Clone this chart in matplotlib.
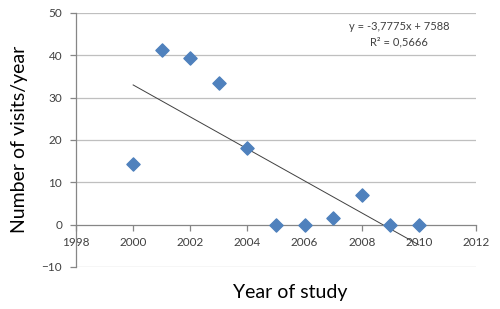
import matplotlib
matplotlib.use("Agg")
import matplotlib.pyplot as plt
import numpy as np

years = [2000, 2001, 2002, 2003, 2004, 2005, 2006, 2007, 2008, 2009, 2010]
visits = [14.3, 41.3, 39.4, 33.5, 18.0, 0.0, 0.0, 1.5, 7.0, 0.0, 0.0]
slope = -3.7775
intercept = 7588
eq_text = "y = -3,7775x + 7588\nR² = 0,5666"
xticks = [1998, 2000, 2002, 2004, 2006, 2008, 2010, 2012]
yticks = [-10, 0, 10, 20, 30, 40, 50]

plt.rcParams['font.family'] = ['Lato', 'DejaVu Sans']

fig = plt.figure(figsize=(5, 3.09), dpi=100)
ax = fig.add_axes([0.152, 0.136, 0.8, 0.822])

ax.set_xlim(1998, 2012)
ax.set_ylim(-10, 50)
ax.set_xticks(xticks)
ax.set_yticks(yticks)

for y in yticks:
    if y == 0:
        continue
    ax.axhline(y, color='#BFBFBF', lw=0.9, zorder=0)

ax.spines['top'].set_visible(False)
ax.spines['right'].set_visible(False)
ax.spines['bottom'].set_position(('data', 0))
ax.spines['bottom'].set_color('#868686')
ax.spines['left'].set_color('#868686')
ax.spines['bottom'].set_linewidth(0.9)
ax.spines['left'].set_linewidth(0.9)

ax.tick_params(axis='both', colors='#868686', labelcolor='#404040', labelsize=8.5, length=4, width=0.9)
ax.tick_params(axis='x', pad=5)
ax.tick_params(axis='y', pad=6)

xt = np.array([min(years), max(years)])
ax.plot(xt, slope * xt + intercept, color='#404040', lw=0.7, zorder=2)
ax.scatter(years, visits, marker='D', s=45, color='#4F81BD', zorder=3, clip_on=False)

ax.text(2009.3, 48.2, eq_text, ha='center', va='top', fontsize=8, color='#404040', linespacing=1.55)

fig.text(0.04, 0.55, "Number of visits/year", rotation=90, ha='center', va='center', fontsize=14, color='black')
fig.text(0.58, 0.055, "Year of study", ha='center', va='center', fontsize=14, color='black')

fig.savefig("out.png", dpi=100)
